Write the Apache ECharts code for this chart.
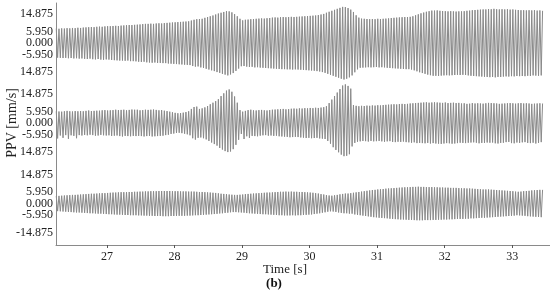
<!DOCTYPE html>
<html>
<head>
<meta charset="utf-8">
<script src="https://cdn.jsdelivr.net/npm/echarts@6/dist/echarts.min.js"></script>
<style>
html, body { margin: 0; padding: 0; background: #fff; }
#wave { width: 550px; height: 303px; }
</style>
</head>
<body>
<div id="wave"></div>
<script>
// sampling of the three records (s)
var t0 = 26.25;
var dt = 0.02;

// peak values, alternating up / down swings [mm/s]
var trace1 = [
	7.4,-7.5,7.3,-7.6,7.5,-7.7,7.4,-7.6,7.6,-7.8,7.5,-7.7,7.7,-7.9,7.6,-7.8,7.8,-8.0,7.7,-7.9,
	7.9,-8.1,8.0,-8.2,8.1,-8.0,8.2,-8.3,8.1,-8.4,8.3,-8.2,8.4,-8.5,8.3,-8.6,8.5,-8.4,8.6,-8.5,
	8.6,-8.7,8.7,-8.8,8.8,-8.9,8.7,-9.0,8.9,-9.0,9.0,-9.1,9.1,-9.0,9.2,-9.3,9.2,-9.3,9.3,-9.4,
	9.4,-9.6,9.5,-9.7,9.7,-9.6,9.8,-9.9,9.8,-10.0,9.9,-10.1,9.8,-10.0,10.0,-10.2,10.1,-10.2,10.0,-10.3,
	10.2,-10.3,10.3,-10.5,10.4,-10.6,10.5,-10.7,10.6,-10.8,10.7,-10.9,10.8,-11.0,10.9,-11.1,11.0,-11.2,11.1,-11.3,
	11.5,-11.8,11.9,-12.1,12.2,-12.0,12.3,-12.5,12.4,-12.8,12.9,-13.2,13.3,-13.6,13.7,-14.0,14.1,-14.4,14.6,-14.9,
	15.1,-15.3,15.5,-15.8,15.9,-16.2,16.3,-16.6,16.2,-16.1,15.7,-15.4,14.8,-14.3,13.7,-13.1,12.4,-11.9,11.6,-11.8,
	11.9,-12.1,12.0,-12.3,12.2,-12.2,12.3,-12.5,12.4,-12.4,12.5,-12.6,12.6,-12.7,12.5,-12.8,12.7,-12.9,12.8,-13.0,
	13.0,-13.1,13.1,-13.2,13.0,-13.3,13.2,-13.4,13.3,-13.4,13.2,-13.5,13.3,-13.5,13.4,-13.6,13.3,-13.5,13.4,-13.6,
	13.5,-13.7,13.6,-13.8,13.7,-13.9,13.8,-14.0,13.9,-14.1,14.0,-14.2,14.1,-14.4,14.3,-14.6,14.6,-14.9,14.9,-15.3,
	15.5,-15.8,16.0,-16.3,16.5,-16.8,17.0,-17.3,17.5,-17.8,18.0,-18.3,18.5,-18.7,18.4,-18.3,17.9,-17.6,17.1,-16.6,
	15.9,-15.0,14.2,-13.5,13.0,-12.7,12.5,-12.6,12.4,-12.5,12.3,-12.4,12.2,-12.5,12.3,-12.4,12.2,-12.3,12.4,-12.5,
	12.3,-12.4,12.4,-12.5,12.5,-12.7,12.6,-12.8,12.8,-12.9,12.9,-13.0,13.0,-13.1,13.1,-13.2,13.2,-13.3,13.3,-13.4,
	13.3,-13.4,13.4,-13.6,13.7,-14.0,14.2,-14.5,14.7,-15.0,15.2,-15.4,15.6,-15.8,16.0,-16.2,16.3,-16.5,16.6,-16.8,
	16.6,-16.8,16.7,-16.9,16.5,-16.7,16.4,-16.6,16.3,-16.5,16.2,-16.6,16.3,-16.5,16.2,-16.4,16.1,-16.3,16.2,-16.4,
	16.2,-16.3,16.3,-16.4,16.5,-16.6,16.6,-16.8,16.8,-16.9,16.9,-17.0,17.0,-17.1,17.1,-17.2,17.2,-17.3,17.2,-17.4,
	17.4,-17.5,17.3,-17.4,17.5,-17.6,17.3,-17.4,17.2,-17.4,17.3,-17.2,17.2,-17.1,17.3,-17.2,17.1,-17.0,17.2,-17.1,
	17.0,-16.9,16.9,-17.0,16.8,-16.9,16.8,-17.0,16.7,-16.8,16.8,-16.9,16.7,-16.6,16.8,-16.7,16.6,-16.8,16.7,-16.6,
	16.5
];
var trace2 = [
	6.0,-7.9,5.9,-6.4,5.8,-7.6,6.0,-6.2,6.2,-8.1,6.0,-6.3,5.9,-6.6,6.1,-7.8,6.0,-6.2,6.1,-6.4,
	6.0,-6.1,6.2,-6.3,6.4,-6.0,6.1,-6.2,6.2,-6.5,6.3,-6.4,6.3,-6.1,6.5,-6.3,6.6,-6.4,6.4,-6.3,
	6.5,-6.6,6.6,-6.5,6.8,-6.4,6.6,-6.7,6.7,-6.9,6.8,-6.6,6.5,-6.7,6.7,-6.8,6.9,-6.6,6.8,-6.7,
	6.8,-6.6,6.5,-6.7,6.6,-6.9,6.8,-6.7,6.7,-6.6,6.8,-6.9,6.9,-6.8,6.7,-6.7,6.5,-6.6,6.6,-6.5,
	6.3,-6.2,6.1,-6.0,5.8,-5.6,5.5,-5.4,5.2,-5.1,5.0,-5.0,5.1,-5.2,5.3,-5.5,5.6,-5.8,6.0,-6.3,
	7.2,-7.8,8.2,-8.5,8.4,-7.6,7.2,-7.4,7.5,-7.8,8.0,-8.4,8.7,-9.2,9.6,-10.0,10.4,-10.8,11.2,-11.6,
	12.2,-12.8,13.8,-13.6,15.2,-14.4,16.6,-14.9,17.2,-14.6,16.0,-13.4,13.6,-11.2,10.4,-8.6,6.6,-5.6,5.8,-8.2,
	6.2,-6.8,6.6,-7.6,6.8,-6.6,6.5,-6.7,6.4,-6.8,6.6,-6.5,6.7,-6.3,6.5,-6.2,6.4,-6.5,6.6,-6.4,
	6.8,-6.6,6.9,-6.5,7.0,-6.8,7.1,-6.9,7.2,-7.0,7.0,-7.1,7.1,-7.3,7.3,-7.2,7.4,-7.1,7.3,-7.2,
	7.5,-7.4,7.4,-7.5,7.6,-7.7,7.5,-7.6,7.7,-7.8,7.6,-7.7,7.8,-7.6,7.7,-7.9,7.9,-8.0,8.1,-8.2,
	8.6,-9.2,10.2,-10.6,12.0,-12.4,13.8,-13.8,15.6,-15.0,17.4,-16.2,19.2,-17.0,19.8,-16.8,19.0,-16.0,17.6,-12.0,
	9.2,-10.2,8.8,-9.6,8.6,-9.4,8.8,-9.2,8.7,-9.3,8.9,-9.5,8.8,-9.2,9.0,-9.4,8.9,-9.3,9.1,-9.2,
	9.0,-9.4,9.2,-9.6,9.3,-9.4,9.4,-9.3,9.5,-9.7,9.6,-9.8,9.5,-9.6,9.7,-9.7,9.8,-9.5,9.7,-9.8,
	9.8,-9.9,10.0,-10.1,10.1,-9.9,10.2,-10.3,10.3,-10.2,10.4,-10.3,10.5,-10.4,10.6,-10.2,10.4,-10.5,10.5,-10.3,
	10.6,-10.5,10.5,-10.6,10.4,-10.7,10.3,-10.5,10.5,-10.3,10.2,-10.4,10.3,-10.6,10.4,-10.5,10.2,-10.3,10.3,-10.1,
	10.0,-10.2,10.1,-10.3,9.8,-10.1,9.9,-10.0,10.2,-9.9,10.0,-10.1,10.1,-10.4,10.0,-10.2,9.9,-10.2,10.1,-10.0,
	10.3,-10.1,10.2,-10.0,10.1,-10.4,10.0,-10.5,9.8,-10.2,9.9,-10.1,10.0,-9.8,10.1,-9.7,10.2,-10.3,10.1,-10.4,
	9.9,-10.0,10.1,-10.2,10.2,-9.9,10.0,-9.8,10.1,-10.2,10.0,-10.3,9.8,-10.1,9.9,-10.5,10.0,-10.2,10.1,-9.8,
	10.0
];
var trace3 = [
	3.8,-3.9,3.9,-4.0,4.0,-4.1,4.1,-4.2,4.2,-4.3,4.3,-4.4,4.4,-4.5,4.4,-4.6,4.5,-4.6,4.6,-4.7,
	4.7,-4.8,4.8,-4.9,4.9,-5.0,5.0,-5.0,5.0,-5.1,5.1,-5.2,5.2,-5.2,5.3,-5.3,5.3,-5.4,5.4,-5.5,
	5.5,-5.5,5.6,-5.6,5.6,-5.7,5.7,-5.7,5.8,-5.8,5.8,-5.9,5.8,-5.9,5.9,-6.0,5.9,-6.0,6.0,-6.0,
	6.0,-6.1,6.1,-6.1,6.1,-6.2,6.2,-6.2,6.2,-6.3,6.3,-6.3,6.3,-6.4,6.3,-6.4,6.4,-6.4,6.4,-6.5,
	6.4,-6.5,6.4,-6.5,6.4,-6.4,6.3,-6.4,6.3,-6.4,6.3,-6.3,6.2,-6.3,6.2,-6.3,6.2,-6.2,6.1,-6.2,
	6.1,-6.1,6.1,-6.0,6.0,-6.0,5.9,-5.9,5.9,-5.8,5.8,-5.7,5.7,-5.6,5.6,-5.5,5.5,-5.4,5.4,-5.3,
	5.2,-5.1,5.0,-5.0,4.9,-4.8,4.8,-4.7,4.6,-4.5,4.5,-4.4,4.4,-4.4,4.4,-4.5,4.5,-4.6,4.6,-4.7,
	4.8,-4.9,4.9,-5.0,5.0,-5.1,5.1,-5.2,5.2,-5.3,5.3,-5.4,5.4,-5.5,5.5,-5.5,5.6,-5.6,5.6,-5.7,
	5.7,-5.8,5.8,-5.9,5.9,-6.0,6.0,-6.0,6.0,-6.1,6.1,-6.1,6.0,-6.1,6.1,-6.0,6.0,-6.1,6.0,-6.0,
	5.9,-6.0,5.9,-5.9,5.8,-5.8,5.7,-5.7,5.6,-5.6,5.5,-5.4,5.3,-5.2,5.1,-5.0,4.8,-4.7,4.6,-4.5,
	4.3,-4.2,4.1,-4.0,4.0,-4.1,4.2,-4.3,4.4,-4.6,4.7,-4.8,4.9,-5.0,5.1,-5.0,5.1,-5.2,5.3,-5.2,
	5.5,-5.6,5.7,-5.8,5.9,-6.0,6.1,-6.2,6.3,-6.4,6.5,-6.6,6.7,-6.8,6.9,-7.0,7.0,-7.1,7.2,-7.3,
	7.3,-7.4,7.4,-7.5,7.6,-7.6,7.7,-7.8,7.8,-7.9,7.9,-8.0,8.0,-8.1,8.1,-8.2,8.2,-8.2,8.3,-8.3,
	8.3,-8.4,8.4,-8.4,8.5,-8.5,8.5,-8.6,8.6,-8.6,8.5,-8.6,8.5,-8.5,8.4,-8.5,8.4,-8.5,8.4,-8.4,
	8.3,-8.4,8.3,-8.3,8.2,-8.3,8.2,-8.2,8.1,-8.2,8.1,-8.1,8.0,-8.1,8.0,-8.0,8.0,-7.9,7.9,-7.9,
	7.8,-7.9,7.8,-7.8,7.7,-7.8,7.7,-7.6,7.6,-7.6,7.5,-7.5,7.4,-7.4,7.3,-7.3,7.2,-7.3,7.2,-7.2,
	7.2,-7.1,7.1,-7.0,7.0,-6.9,6.9,-6.8,6.8,-6.7,6.7,-6.6,6.6,-6.5,6.5,-6.4,6.4,-6.3,6.3,-6.2,
	6.1,-6.0,6.0,-6.1,6.1,-6.2,6.3,-6.3,6.4,-6.5,6.5,-6.6,6.7,-6.7,6.8,-6.8,6.9,-6.9,7.0,-7.0,
	7.0
];

// axis labels
var yTicks = [-14.875, -5.95, 0, 5.95, 14.875];
var xTicks = [27, 28, 29, 30, 31, 32, 33];

var serif = "'Liberation Serif', 'DejaVu Serif', serif";
var lineGray = '#8a8a8a';

function toPairs(arr) {
	var out = [];
	for (var i = 0; i < arr.length; i++) {
		out.push([t0 + i * dt, arr[i]]);
	}
	return out;
}

function yAx(idx, min, max, keepMinus) {
	return {
		type: 'value',
		gridIndex: idx,
		min: min,
		max: max,
		splitLine: { show: false },
		axisTick: { show: false },
		axisLine: { show: true, onZero: false, lineStyle: { color: lineGray, width: 1 } },
		axisLabel: {
			customValues: yTicks,
			margin: 3,
			color: '#222',
			fontFamily: serif,
			fontSize: 12,
			formatter: function (v) {
				// the lower limit of the top two traces is printed without its sign
				if (v === -14.875 && !keepMinus) return '14.875';
				return v.toFixed(3);
			}
		}
	};
}

function xAx(idx, visible) {
	return {
		type: 'value',
		gridIndex: idx,
		min: 26.246,
		max: 33.56,
		show: visible,
		splitLine: { show: false },
		axisLine: { show: true, onZero: false, lineStyle: { color: lineGray, width: 1 } },
		axisTick: { show: true, customValues: xTicks, length: 3, lineStyle: { color: '#555' } },
		axisLabel: {
			customValues: xTicks,
			margin: 6,
			color: '#222',
			fontFamily: serif,
			fontSize: 12
		}
	};
}

function wave(idx, arr) {
	return {
		type: 'line',
		xAxisIndex: idx,
		yAxisIndex: idx,
		data: toPairs(arr),
		showSymbol: false,
		clip: false,
		lineStyle: { color: '#8a8a8a', width: 1 }
	};
}

var yAxes = [
	yAx(0, -20.5, 20.5, false),
	yAx(1, -20.5, 20.5, false),
	yAx(2, -21.27, 20.76, true)
];
yAxes[1].name = 'PPV [mm/s]';
yAxes[1].nameLocation = 'middle';
yAxes[1].nameGap = 37;
yAxes[1].nameMoveOverlap = false;
yAxes[1].nameTextStyle = { fontFamily: serif, fontSize: 14, color: '#222' };

var chart = echarts.init(document.getElementById('wave'));
chart.setOption({
	animation: false,
	backgroundColor: '#fff',
	grid: [
		{ left: 56, right: 0, top: 3, height: 80, outerBoundsMode: 'none' },
		{ left: 56, right: 0, top: 83, height: 80, outerBoundsMode: 'none' },
		{ left: 56, right: 0, top: 163, height: 82, outerBoundsMode: 'none' }
	],
	xAxis: [xAx(0, false), xAx(1, false), xAx(2, true)],
	yAxis: yAxes,
	series: [wave(0, trace1), wave(1, trace2), wave(2, trace3)],
	graphic: [
		{
			type: 'text', x: 285, y: 270,
			style: { text: 'Time [s]', fontFamily: serif, fontSize: 13, fill: '#222', textAlign: 'center', textVerticalAlign: 'middle' }
		},
		{
			type: 'text', x: 274, y: 284,
			style: { text: '(b)', fontFamily: serif, fontSize: 13, fontWeight: 'bold', fill: '#111', textAlign: 'center', textVerticalAlign: 'middle' }
		}
	]
});
</script>
</body>
</html>
